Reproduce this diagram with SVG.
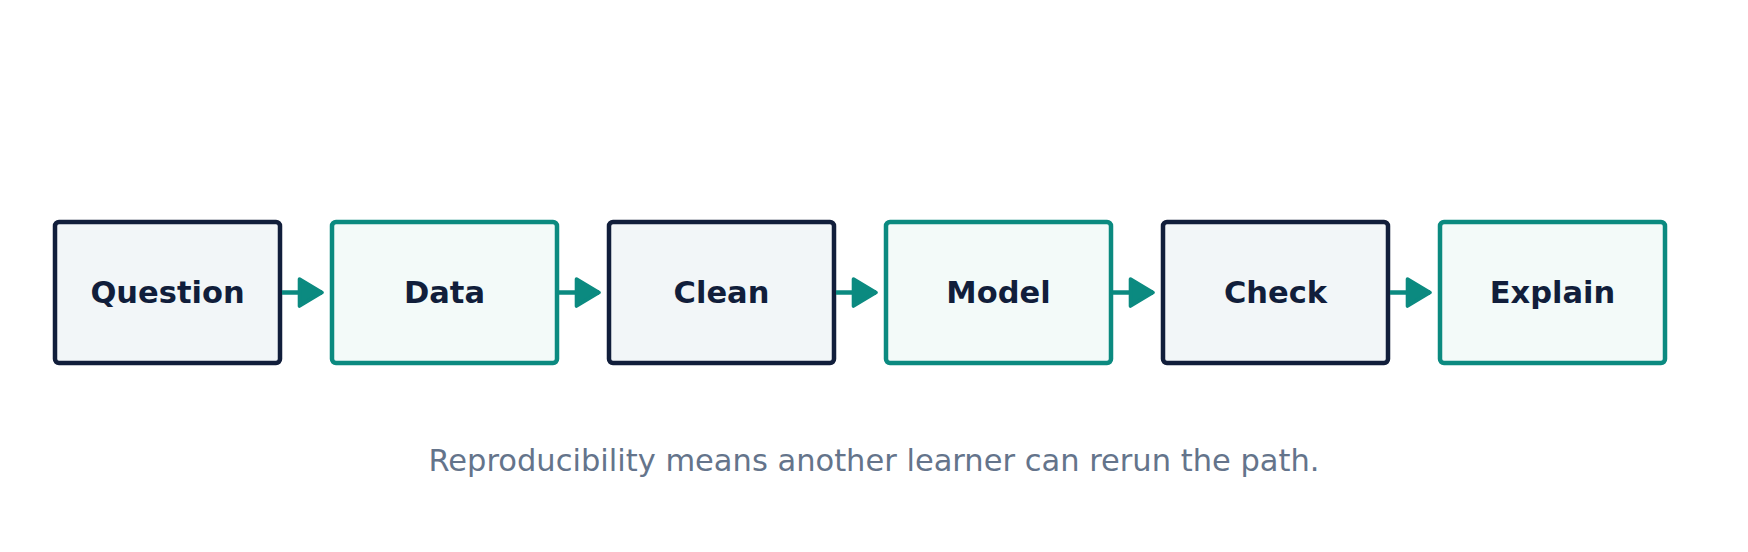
<svg xmlns="http://www.w3.org/2000/svg" width="1748" height="552" viewBox="0 0 1748 552">
<style>
.n rect{stroke-width:4.5}
.a rect{fill:#f2f6f8;stroke:#111e3b}
.b rect{fill:#f3faf9;stroke:#0b8a80}
.n text{font-family:"DejaVu Sans",sans-serif;font-weight:bold;font-size:30.5px;fill:#111e3b;text-anchor:middle}
.c line{stroke:#0b8a80;stroke-width:4.5}
</style>
<defs><marker id="h" markerWidth="7" markerHeight="7" refX="5.5" refY="3.5" orient="auto" markerUnits="strokeWidth"><path d="M0.5,0.5 L5.5,3.5 L0.5,6.5 Z" fill="#0b8a80" stroke="#0b8a80" stroke-width="0.8" stroke-linejoin="round"/></marker></defs>
<rect width="1748" height="552" fill="#fff"/>
<g id="question" class="n a"><rect x="55" y="222" width="225" height="141" rx="4"/><text x="167.5" y="303">Question</text></g>
<g id="data" class="n b"><rect x="332" y="222" width="225" height="141" rx="4"/><text x="444.5" y="303">Data</text></g>
<g id="clean" class="n a"><rect x="609" y="222" width="225" height="141" rx="4"/><text x="721.5" y="303">Clean</text></g>
<g id="model" class="n b"><rect x="886" y="222" width="225" height="141" rx="4"/><text x="998.5" y="303">Model</text></g>
<g id="check" class="n a"><rect x="1163" y="222" width="225" height="141" rx="4"/><text x="1275.5" y="303">Check</text></g>
<g id="explain" class="n b"><rect x="1440" y="222" width="225" height="141" rx="4"/><text x="1552.5" y="303">Explain</text></g>
<g id="connectors" class="c">
<line x1="282" y1="292.5" x2="322" y2="292.5" marker-end="url(#h)"/>
<line x1="559" y1="292.5" x2="599" y2="292.5" marker-end="url(#h)"/>
<line x1="836" y1="292.5" x2="876" y2="292.5" marker-end="url(#h)"/>
<line x1="1113" y1="292.5" x2="1153" y2="292.5" marker-end="url(#h)"/>
<line x1="1390" y1="292.5" x2="1430" y2="292.5" marker-end="url(#h)"/>
</g>
<text x="874" y="471" font-family="DejaVu Sans,sans-serif" font-size="30.5" fill="#64748b" text-anchor="middle">Reproducibility means another learner can rerun the path.</text>
</svg>
